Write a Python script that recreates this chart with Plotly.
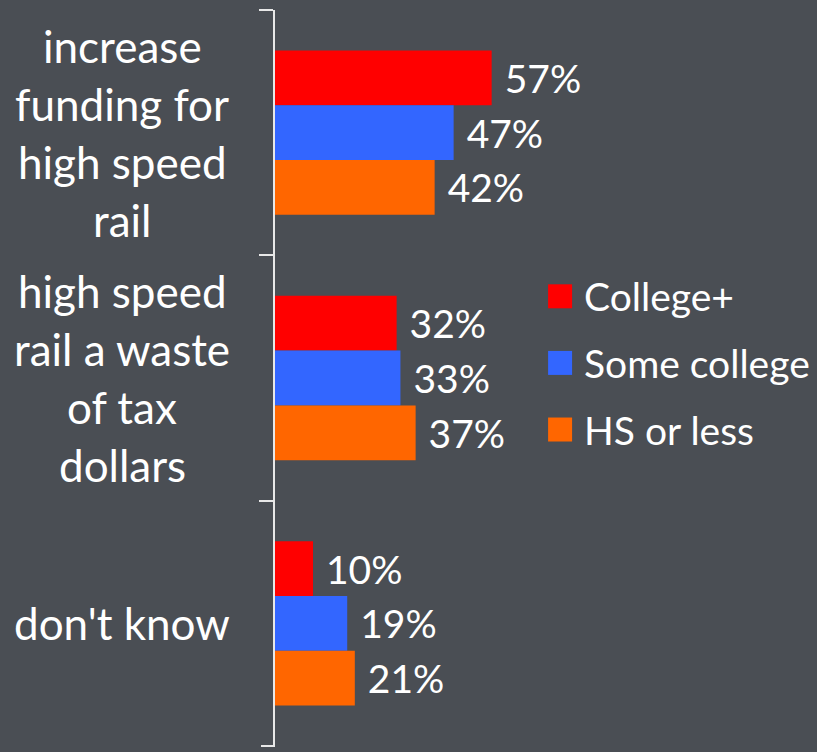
import plotly.graph_objects as go

categories = [
    "increase<br>funding for<br>high speed<br>rail",
    "high speed<br>rail a waste<br>of tax<br>dollars",
    "don't know",
]
series_names = ["College+", "Some college", "HS or less"]
college_plus = [57, 32, 10]
some_college = [47, 33, 19]
hs_or_less = [42, 37, 21]

colors = ["#ff0000", "#3366ff", "#ff6600"]
bg = "#4a4e54"
axis_color = "#e8e8e8"
font_family = "Lato, 'Open Sans', sans-serif"
label_size = 39
cat_size = 44
line_step = 58

fig = go.Figure()
for name, vals, col in zip(series_names, [college_plus, some_college, hs_or_less], colors):
    fig.add_trace(go.Bar(
        name=name,
        y=categories,
        x=vals,
        orientation="h",
        marker=dict(color=col, line=dict(width=0)),
        text=[f" {v}%" for v in vals],
        textposition="outside",
        textfont=dict(color="white", size=label_size, family=font_family),
        cliponaxis=False,
        showlegend=False,
    ))

# multi-line category labels, one annotation per line for wider line spacing
for cat in categories:
    lines = cat.split("<br>")
    n = len(lines)
    for i, ln in enumerate(lines):
        fig.add_annotation(
            x=-0.282, xref="paper", xanchor="center",
            y=cat, yref="y", yanchor="middle",
            yshift=-(i - (n - 1) / 2) * line_step,
            text=ln, showarrow=False,
            font=dict(color="white", size=cat_size, family=font_family),
        )

# legend: square swatch + label per series
legend_x = 0.526
legend_top = 0.611
legend_step = 0.0905
for i, (name, col) in enumerate(zip(series_names, colors)):
    yc = legend_top - i * legend_step
    fig.add_shape(
        type="rect", xref="paper", yref="paper",
        xsizemode="pixel", ysizemode="pixel",
        xanchor=legend_x, yanchor=yc,
        x0=-12, x1=12, y0=-12, y1=12,
        fillcolor=col, line=dict(width=0),
    )
    fig.add_annotation(
        x=0.566, xref="paper", xanchor="left",
        y=yc, yref="paper", yanchor="middle",
        text=name, showarrow=False,
        font=dict(color="white", size=label_size, family=font_family),
    )

# closing tick at the bottom end of the category axis
fig.add_shape(
    type="line", xref="paper", yref="paper",
    xsizemode="pixel", xanchor=0, x0=-14, x1=0, y0=0, y1=0,
    line=dict(color=axis_color, width=2),
)

fig.update_layout(
    width=817, height=752,
    paper_bgcolor=bg, plot_bgcolor=bg,
    margin=dict(l=275, r=0, t=10, b=6),
    barmode="group",
    bargap=0.33, bargroupgap=0,
    font=dict(color="white", size=label_size, family=font_family),
    showlegend=False,
    xaxis=dict(range=[0, 142.6], visible=False, fixedrange=True),
    yaxis=dict(
        type="category",
        range=[2.5, -0.5],
        showticklabels=False,
        showline=True, linecolor=axis_color, linewidth=2,
        ticks="outside", tickson="boundaries", ticklen=14,
        tickcolor=axis_color, tickwidth=2,
        showgrid=False, zeroline=False,
    ),
)

fig.write_html("out.html")
